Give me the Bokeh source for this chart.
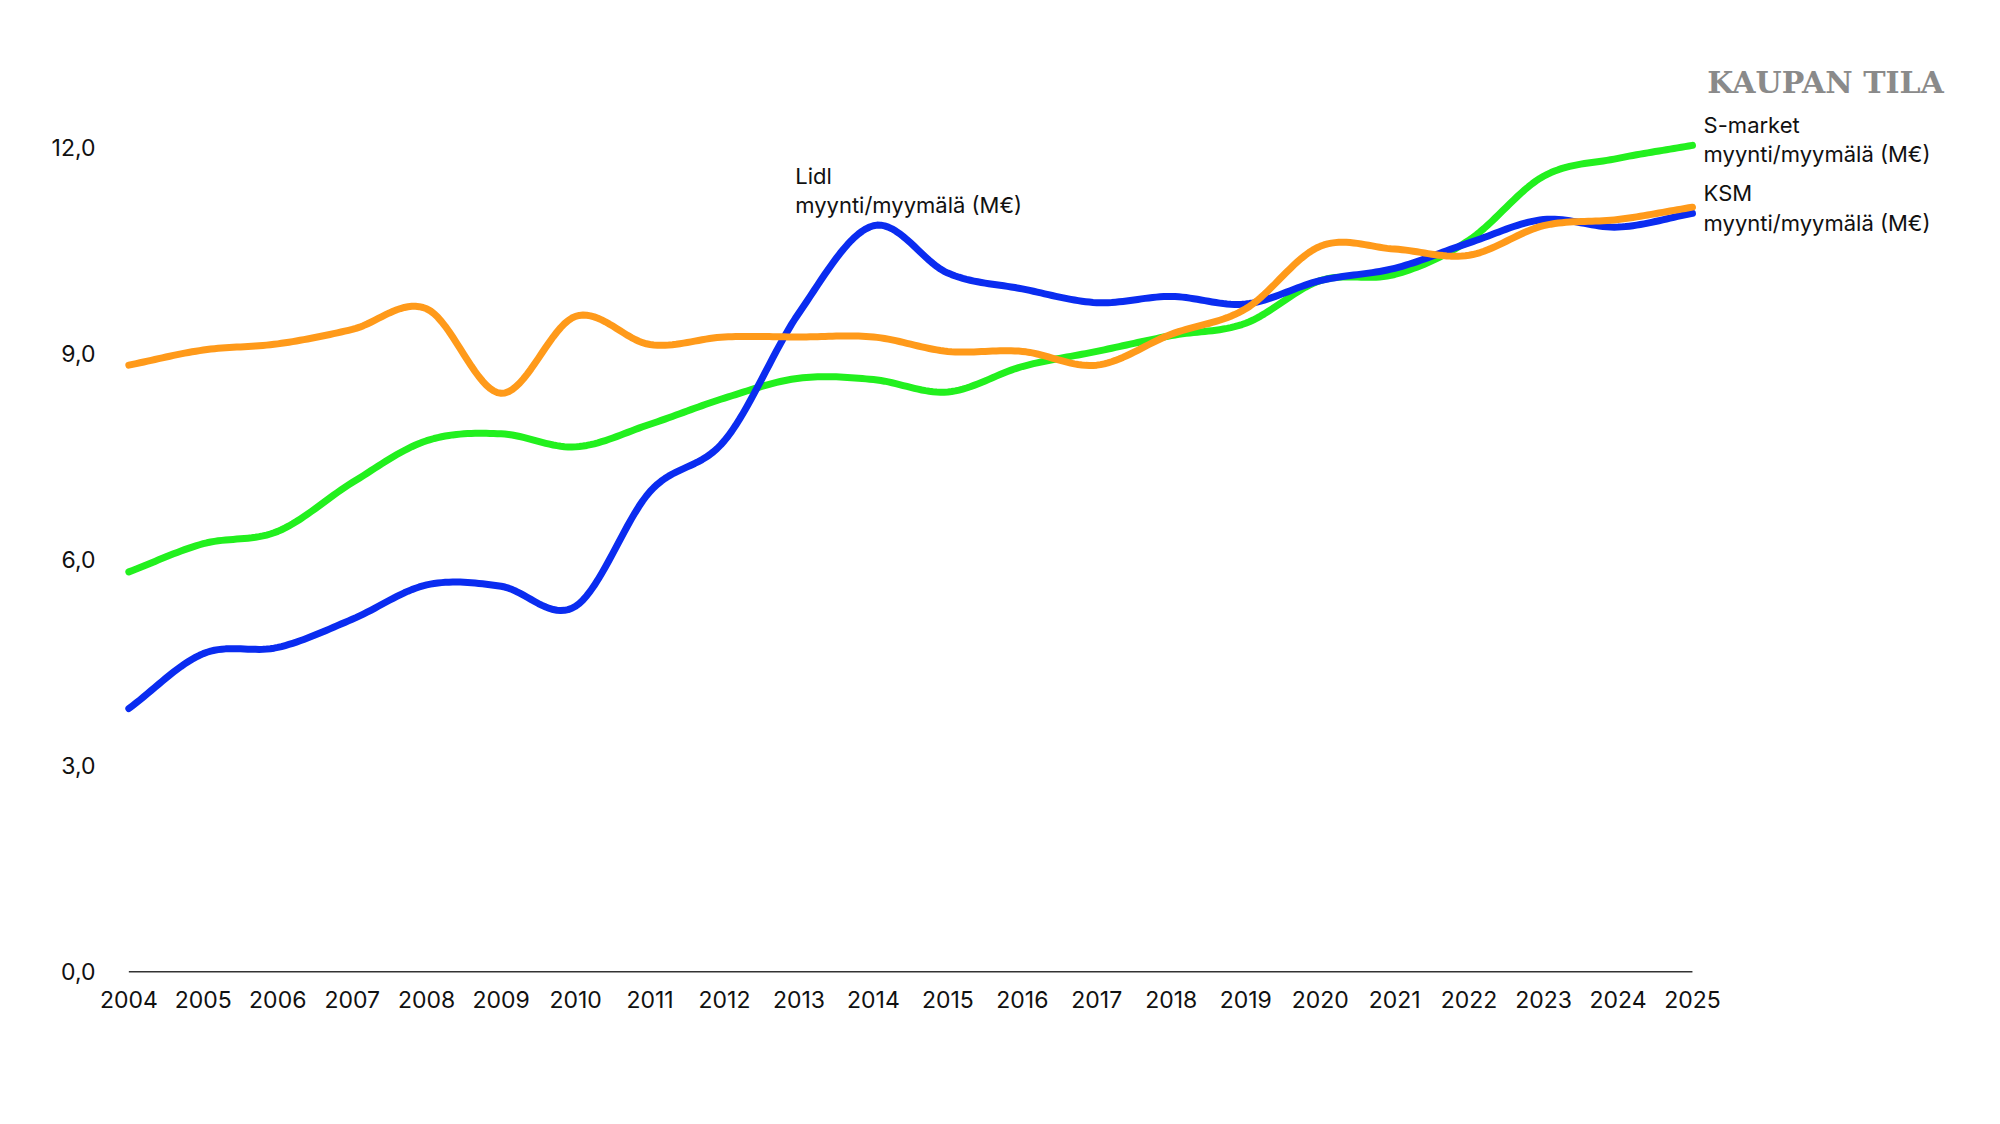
import numpy as np
from bokeh.plotting import figure
from bokeh.models import Range1d, FixedTicker
from bokeh.core.properties import value
from bokeh.embed import file_html
from bokeh.resources import INLINE

years = list(range(2004, 2026))
lidl = [3.83, 4.63, 4.72, 5.13, 5.63, 5.61, 5.32, 6.99, 7.73, 9.59, 10.86, 10.17, 9.94, 9.74, 9.83, 9.72, 10.06, 10.24, 10.61, 10.95, 10.84, 11.04]
smarket = [5.82, 6.23, 6.41, 7.12, 7.73, 7.83, 7.64, 7.97, 8.35, 8.64, 8.62, 8.44, 8.81, 9.03, 9.26, 9.44, 10.06, 10.15, 10.65, 11.58, 11.84, 12.03]
ksm = [8.83, 9.05, 9.14, 9.35, 9.65, 8.42, 9.54, 9.13, 9.24, 9.24, 9.24, 9.03, 9.03, 8.83, 9.28, 9.65, 10.56, 10.52, 10.43, 10.86, 10.95, 11.13]
y_ticks = [0, 3, 6, 9, 12]
y_labels = ["0,0", "3,0", "6,0", "9,0", "12,0"]

def smooth(xs, ys, n=20):
    xs = np.array(xs, float); ys = np.array(ys, float)
    px = np.concatenate([[2*xs[0]-xs[1]], xs, [2*xs[-1]-xs[-2]]])
    py = np.concatenate([[2*ys[0]-ys[1]], ys, [2*ys[-1]-ys[-2]]])
    ox, oy = [], []
    for i in range(1, len(px)-2):
        t = np.linspace(0, 1, n, endpoint=False)
        for P, out in ((px, ox), (py, oy)):
            p0, p1, p2, p3 = P[i-1], P[i], P[i+1], P[i+2]
            out.extend(0.5*((2*p1) + (-p0+p2)*t + (2*p0-5*p1+4*p2-p3)*t**2 + (-p0+3*p1-3*p2+p3)*t**3))
    ox.append(xs[-1]); oy.append(ys[-1])
    return ox, oy

p = figure(width=1984, height=1108, output_backend="svg", toolbar_location=None,
           x_range=Range1d(2003.7, 2028.6), y_range=Range1d(-0.1, 13.44),
           min_border_left=106, min_border_right=24, min_border_top=48, min_border_bottom=130)
p.background_fill_color = "white"
p.border_fill_color = "white"
p.outline_line_color = None
p.grid.visible = False
for ax in (p.xaxis, p.yaxis):
    ax.axis_line_color = None
    ax.major_tick_line_color = None
    ax.minor_tick_line_color = None
    ax.major_label_text_font = "Inter"
    ax.major_label_text_font_size = "23px"
    ax.major_label_text_color = "#111111"
p.xaxis.ticker = FixedTicker(ticks=years)
p.xaxis.major_label_standoff = 6
p.yaxis.ticker = FixedTicker(ticks=y_ticks)
p.yaxis.major_label_overrides = {t: l for t, l in zip(y_ticks, y_labels)}

p.segment(x0=[2004], y0=[0], x1=[2025], y1=[0], line_color="#333333", line_width=1.5)

for ys, col in ((smarket, "#22f01e"), (lidl, "#0a2cf0"), (ksm, "#ff9a1a")):
    sx, sy = smooth(years, ys)
    p.line(sx, sy, line_color=col, line_width=7, line_cap="round", line_join="round")

p.text(x=[2025.2], y=[12.95], text=["KAUPAN TILA"], text_font=value("DejaVu Serif"),
       text_font_style="bold", text_font_size="30px", text_color="#8a8a8a", text_baseline="middle")
lx = [2025.15, 2025.15, 2025.15, 2025.15, 2012.95, 2012.95]
ly = [12.33, 11.90, 11.33, 10.90, 11.59, 11.16]
lt = ["S-market", "myynti/myymälä (M€)", "KSM", "myynti/myymälä (M€)", "Lidl", "myynti/myymälä (M€)"]
p.text(x=lx, y=ly, text=lt, text_font=value("Inter"), text_font_size="22px",
       text_color="#111111", text_baseline="middle")

open("out.html", "w").write(file_html(p, INLINE))
